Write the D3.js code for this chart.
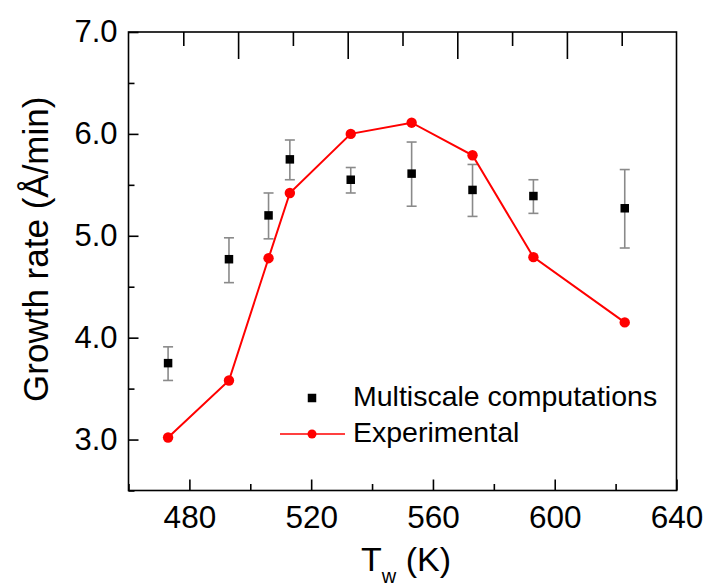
<!DOCTYPE html>
<html>
<head>
<meta charset="utf-8">
<script src="https://cdn.jsdelivr.net/npm/d3@7"></script>
<style>
  html, body { margin: 0; padding: 0; background: #fff; }
  svg text { font-family: "Liberation Sans", Arial, sans-serif; fill: #000; }
  .axis path, .axis line { stroke: #000; stroke-width: 1.6; }
</style>
</head>
<body>
<div id="chart"></div>
<script>
// ── Data ───────────────────────────────────────────────────────────────
const tempK            = [473, 493, 506, 513, 533, 553, 573, 593, 623];
const multiscaleRate   = [3.75, 4.77, 5.20, 5.75, 5.55, 5.61, 5.45, 5.39, 5.27];
const multiscaleLow    = [3.58, 4.54, 4.97, 5.55, 5.42, 5.29, 5.19, 5.22, 4.88];
const multiscaleHigh   = [3.91, 4.98, 5.42, 5.94, 5.67, 5.92, 5.70, 5.55, 5.65];
const experimentalRate = [3.02, 3.58, 4.78, 5.42, 6.00, 6.11, 5.79, 4.79, 4.15];

const xMajorTicks = [480, 520, 560, 600, 640];
const xMinorTicks = [460, 500, 540, 580, 620];
const yMajorTicks = [3.0, 4.0, 5.0, 6.0, 7.0];
const yMinorTicks = [2.5, 3.5, 4.5, 5.5, 6.5];
const topMajorTicks = [2, 4, 6, 8];
const topMinorTicks = [1, 3, 5, 7, 9];

const legendLabels = ['Multiscale computations', 'Experimental'];

// ── Layout ─────────────────────────────────────────────────────────────
const W = 707, H = 585;
const M = { top: 32, right: 30.5, bottom: 94.5, left: 128.5 };
const iw = W - M.left - M.right;
const ih = H - M.top - M.bottom;

const svg = d3.select('#chart').append('svg')
  .attr('width', W).attr('height', H);

const g = svg.append('g').attr('transform', `translate(${M.left},${M.top})`);

const x = d3.scaleLinear().domain([460, 640]).range([0, iw]);
const y = d3.scaleLinear().domain([2.5, 7.0]).range([ih, 0]);
// top frame carries its own unlabeled tick spacing
const xTop = d3.scaleLinear().domain([0, 10]).range([0, iw]);

// ── Frame ──────────────────────────────────────────────────────────────
g.append('rect')
  .attr('width', iw).attr('height', ih)
  .attr('fill', 'none').attr('stroke', '#000').attr('stroke-width', 1.6);

// ── Axes (ticks point inward) ─────────────────────────────────────────
g.append('g').attr('class', 'axis').attr('transform', `translate(0,${ih})`)
  .call(d3.axisBottom(x).tickValues(xMinorTicks).tickSize(-6.5).tickFormat(''))
  .call(a => a.select('.domain').remove());
g.append('g').attr('class', 'axis x-major').attr('transform', `translate(0,${ih})`)
  .call(d3.axisBottom(x).tickValues(xMajorTicks).tickSize(-11).tickPadding(15)
    .tickFormat(d3.format('d')))
  .call(a => a.select('.domain').remove())
  .call(a => a.selectAll('text').attr('font-size', 31.5).attr('dy', '0.71em'));

g.append('g').attr('class', 'axis')
  .call(d3.axisLeft(y).tickValues(yMinorTicks).tickSize(-6).tickFormat(''))
  .call(a => a.select('.domain').remove());
g.append('g').attr('class', 'axis')
  .call(d3.axisLeft(y).tickValues(yMajorTicks).tickSize(-10).tickPadding(11)
    .tickFormat(d3.format('.1f')))
  .call(a => a.select('.domain').remove())
  .call(a => a.selectAll('text').attr('font-size', 31));

g.append('g').attr('class', 'axis')
  .call(d3.axisTop(xTop).tickValues(topMinorTicks).tickSize(-14).tickFormat(''))
  .call(a => a.select('.domain').remove());
g.append('g').attr('class', 'axis')
  .call(d3.axisTop(xTop).tickValues(topMajorTicks).tickSize(-27).tickFormat(''))
  .call(a => a.select('.domain').remove());

// ── Axis titles ────────────────────────────────────────────────────────
const xt = g.append('text')
  .attr('x', (361 - M.left)).attr('y', ih + 80)
  .attr('font-size', 34);
xt.append('tspan').text('T');
xt.append('tspan').attr('font-size', 20).attr('dy', 12).text('w');
xt.append('tspan').attr('dy', -12).text(' (K)');

g.append('text')
  .attr('transform', `translate(${48 - M.left},${ih / 2 - 12}) rotate(-90)`)
  .attr('text-anchor', 'middle').attr('font-size', 35)
  .text('Growth rate (Å/min)');

// ── Series ─────────────────────────────────────────────────────────────
const pts = tempK.map((t, i) => ({
  t, m: multiscaleRate[i], lo: multiscaleLow[i], hi: multiscaleHigh[i], e: experimentalRate[i]
}));

// error bars
const eb = g.append('g').attr('stroke', '#8a8a8a').attr('stroke-width', 1.6);
eb.selectAll('line.v').data(pts).join('line').attr('class', 'v')
  .attr('x1', d => x(d.t)).attr('x2', d => x(d.t))
  .attr('y1', d => y(d.lo)).attr('y2', d => y(d.hi));
eb.selectAll('line.cap-hi').data(pts).join('line').attr('class', 'cap-hi')
  .attr('x1', d => x(d.t) - 5).attr('x2', d => x(d.t) + 5)
  .attr('y1', d => y(d.hi)).attr('y2', d => y(d.hi));
eb.selectAll('line.cap-lo').data(pts).join('line').attr('class', 'cap-lo')
  .attr('x1', d => x(d.t) - 5).attr('x2', d => x(d.t) + 5)
  .attr('y1', d => y(d.lo)).attr('y2', d => y(d.lo));

// experimental line + dots
g.append('path').datum(pts)
  .attr('fill', 'none').attr('stroke', '#ff0000').attr('stroke-width', 2)
  .attr('d', d3.line().x(d => x(d.t)).y(d => y(d.e)));
g.selectAll('circle.exp').data(pts).join('circle').attr('class', 'exp')
  .attr('cx', d => x(d.t)).attr('cy', d => y(d.e)).attr('r', 5.2)
  .attr('fill', '#ff0000');

// multiscale squares
const sq = 8.5;
g.selectAll('rect.ms').data(pts).join('rect').attr('class', 'ms')
  .attr('x', d => x(d.t) - sq / 2).attr('y', d => y(d.m) - sq / 2)
  .attr('width', sq).attr('height', sq).attr('fill', '#000');

// ── Legend ─────────────────────────────────────────────────────────────
const lg = svg.append('g');
lg.append('rect').attr('x', 312 - 4.25).attr('y', 398 - 4.25)
  .attr('width', 8.5).attr('height', 8.5).attr('fill', '#000');
lg.append('line').attr('x1', 280).attr('x2', 345).attr('y1', 434).attr('y2', 434)
  .attr('stroke', '#ff0000').attr('stroke-width', 1.6);
lg.append('circle').attr('cx', 312).attr('cy', 434).attr('r', 4.5).attr('fill', '#ff0000');
lg.selectAll('text').data(legendLabels).join('text')
  .attr('x', 353).attr('y', (d, i) => 406 + i * 36)
  .attr('font-size', 28.5)
  .text(d => d);
</script>
</body>
</html>
